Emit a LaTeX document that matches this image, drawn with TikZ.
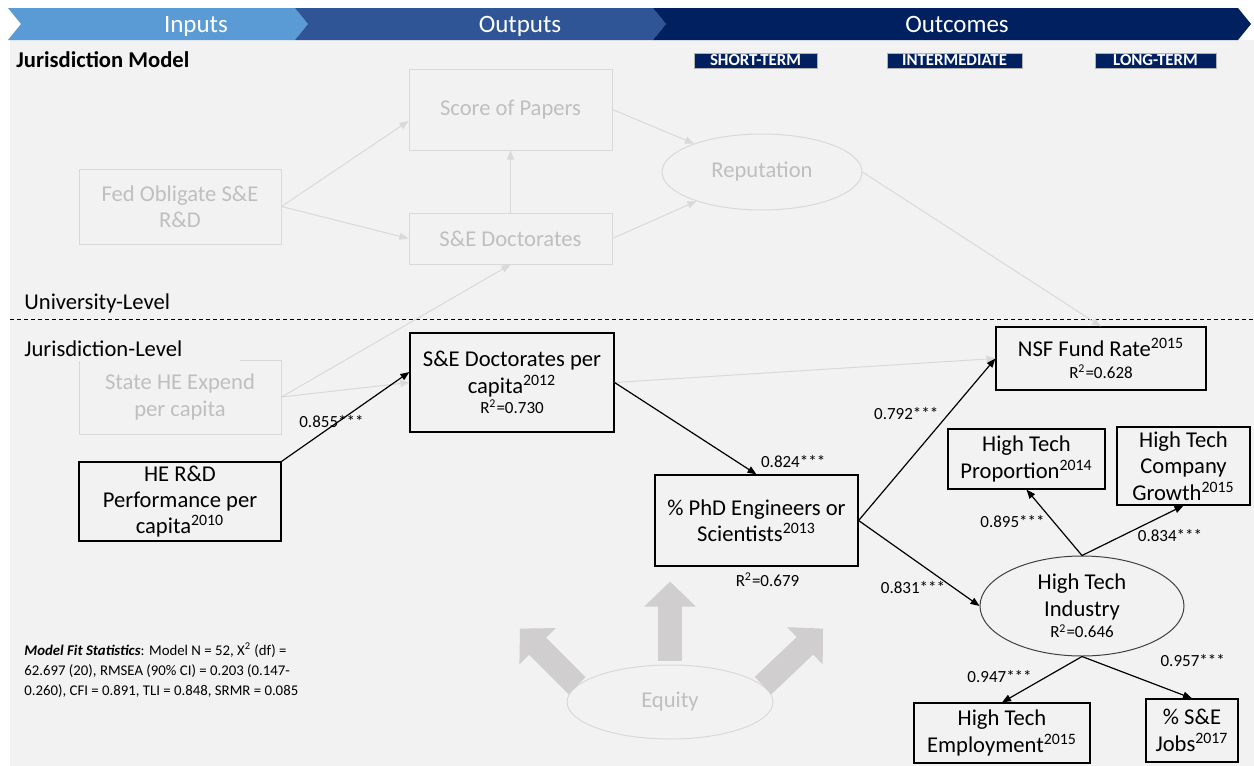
\documentclass[tikz,border=0pt]{standalone}
\usepackage{fontspec}
\setmainfont{Carlito}
\usetikzlibrary{arrows.meta, shapes.geometric, positioning}

\definecolor{bggrey}{HTML}{F2F2F2}
\definecolor{fadeline}{HTML}{D9D9D9}
\definecolor{fadetext}{HTML}{BFBFBF}
\definecolor{blockgrey}{HTML}{D0CECE}
\definecolor{navy}{HTML}{002060}
\definecolor{midblue}{HTML}{2F5597}
\definecolor{skyblue}{HTML}{5B9BD5}

\newcommand{\mainsize}{\fontsize{11.3}{13.2}\selectfont}
\newcommand{\coefsize}{\fontsize{8.5}{10}\selectfont}
\newcommand{\headsize}{\fontsize{12.5}{15}\selectfont}
\newcommand{\tagsize}{\fontsize{8.4}{9}\selectfont}
\newcommand{\fitsize}{\fontsize{7.4}{10}\selectfont}

\begin{document}
\begin{tikzpicture}[x=0.5pt, y=-0.5pt,
        box/.style={draw=black, line width=0.6pt, align=center, font=\mainsize, inner sep=1pt},
        fadebox/.style={draw=fadeline, line width=0.5pt, text=fadetext, align=center, font=\mainsize, inner sep=1pt},
        coef/.style={font=\coefsize, inner sep=1pt},
        link/.style={draw=black, line width=0.6pt, -{Triangle[length=4.5pt,width=3.5pt]}},
        fadelink/.style={draw=fadeline, line width=0.5pt, -{Triangle[length=4.5pt,width=3.5pt]}},
        head/.style={text=white, font=\headsize, inner sep=0pt, anchor=base},
        tag/.style={fill=navy, draw=gray!60, line width=0.4pt, text=white, font=\tagsize\bfseries,
            minimum height=7.5pt, text height=5.5pt, text depth=0.5pt, inner sep=0pt},
        bigarrow/.style={draw=blockgrey, line width=12pt, -{Triangle[length=12.5pt,width=25pt]}}
    ]
        \useasboundingbox (0,0) rectangle (1254,766);
        \fill[white] (0,0) rectangle (1254,766);
        \fill[bggrey] (10,40) rectangle (1254,766); % slide background

        % header chevrons
        \fill[skyblue] (8,8) -- (295,8) -- (308,24) -- (295,40) -- (8,40) -- (21,24) -- cycle;
        \fill[midblue] (295,8) -- (653,8) -- (666,24) -- (653,40) -- (295,40) -- (308,24) -- cycle;
        \fill[navy] (653,8) -- (1238,8) -- (1251,24) -- (1238,40) -- (653,40) -- (666,24) -- cycle;
        \node[head] (inputs) at (196,32) {Inputs};
        \node[head] (outputs) at (520,32) {Outputs};
        \node[head] (outcomes) at (957,32) {Outcomes};

        \node[tag, minimum width=61.5pt] (shortterm) at (755.5,60.5) {SHORT-TERM};
        \node[tag, minimum width=67.5pt] (interm) at (954.5,60.5) {INTERMEDIATE};
        \node[tag, minimum width=60.5pt] (longterm) at (1155.5,60.5) {LONG-TERM};

        \node[anchor=west, inner sep=0pt, font=\fontsize{11.3}{13}\selectfont\bfseries] (jmodel) at (16,60) {Jurisdiction Model};

        % university level (faded)
        \node[fadebox, minimum width=101pt, minimum height=37.5pt] (fed) at (180,206.5) {Fed Obligate S\&E\\R\&D};
        \node[fadebox, minimum width=101.5pt, minimum height=40.5pt] (score) at (510.5,109.5) {Score of Papers};
        \node[fadebox, minimum width=101.5pt, minimum height=25.5pt] (sedoc) at (510.5,238.5) {S\&E Doctorates};
        \node[fadebox, ellipse, minimum width=100pt, minimum height=38pt] (rep) at (762,172) {Reputation};

        \node[anchor=west, inner sep=0pt, font=\fontsize{11.3}{13}\selectfont] (univ) at (24,303) {University-Level};
        \draw[dash pattern=on 2pt off 1.5pt, line width=0.5pt] (10,319) -- (1254,319);

        % jurisdiction level
        \node[fadebox, minimum width=101pt, minimum height=37pt] (state) at (180,397) {State HE Expend\\per capita};
        \node[anchor=north west, fill=bggrey, inner sep=0pt, text width=108pt, align=left,
            minimum height=12.5pt, font=\fontsize{11.3}{13}\selectfont] (jlevel) at (24,336) {Jurisdiction-Level};
        \node[box, minimum width=101pt, minimum height=39.5pt] (herd) at (180,501.5) {HE R\&D\\Performance per\\capita\textsuperscript{2010}};
        \node[box, minimum width=102pt, minimum height=49.5pt] (sedpc) at (512,382.5) {S\&E Doctorates per\\capita\textsuperscript{2012}\\[-3pt]{\coefsize R\textsuperscript{2}=0.730}};
        \node[box, minimum width=101.5pt, minimum height=45.5pt] (phd) at (756.5,520.5) {\% PhD Engineers or\\Scientists\textsuperscript{2013}};
        \node[coef, below=2pt of phd.south, xshift=5.5pt] (phdrsq) {R\textsuperscript{2}=0.679};
        \node[box, minimum width=105pt, minimum height=31.5pt] (nsf) at (1101,358.5) {NSF Fund Rate\textsuperscript{2015}\\[-2.5pt]{\coefsize R\textsuperscript{2}=0.628}};
        \node[box, minimum width=78.5pt, minimum height=30pt] (htp) at (1026.5,459) {High Tech\\Proportion\textsuperscript{2014}};
        \node[box, minimum width=66.5pt, minimum height=39pt] (htcg) at (1183.5,466) {High Tech\\Company\\Growth\textsuperscript{2015}};
        \node[box, ellipse, line width=0.5pt, draw=black!75, minimum width=102pt, minimum height=50pt] (hti) at (1082,606) {High Tech\\Industry\\[-2.5pt]{\coefsize R\textsuperscript{2}=0.646}};
        \node[box, minimum width=88pt, minimum height=30pt] (hte) at (1002,733) {High Tech\\Employment\textsuperscript{2015}};
        \node[box, minimum width=46pt, minimum height=31.5pt] (sej) at (1192,730.5) {\% S\&E\\Jobs\textsuperscript{2017}};

        % faded paths
        \draw[fadelink] (fed.east) -- ([yshift=-5.75pt]score.west);
        \draw[fadelink] (fed.east) -- (sedoc.west);
        \draw[fadelink] (sedoc.north) -- (score.south);
        \draw[fadelink] (score.east) -- (rep);
        \draw[fadelink] (sedoc.east) -- (rep);
        \draw[fadelink] (rep.east) -- (nsf.north);
        \draw[fadelink] (state.east) -- (sedoc.south);
        \draw[fadelink] (state.east) -- (sedpc.west);
        \draw[fadelink] (sedpc.east) -- (nsf.west);

        % estimated paths
        \draw[link] (herd.north east) -- ([yshift=5.25pt]sedpc.west) node[coef, pos=0.39, yshift=2.5pt] (cherd) {0.855***};
        \draw[link] (sedpc.east) -- (phd.north) node[coef, pos=1, anchor=south west, xshift=1pt, yshift=2pt] (csedpc) {0.824***};
        \draw[link] (phd.east) -- (nsf.west) node[coef, pos=0.66, anchor=east, xshift=-4pt] (cnsf) {0.792***};
        \draw[link] (phd.east) -- (hti.west) node[coef, pos=0.45, yshift=-14.5pt] (chti) {0.831***};
        \draw[link] (hti.north) -- (htp.south) node[coef, pos=0.52, anchor=east, xshift=-3pt] (chtp) {0.895***};
        \draw[link] (hti.north) -- (htcg.south) node[coef, pos=0.867, anchor=north, yshift=-7.5pt] (chtcg) {0.834***};
        \draw[link] (hti.south) -- (hte.north) node[coef, pos=0.447, anchor=east, xshift=-6pt] (chte) {0.947***};
        \draw[link] (hti.south) -- (sej.north) node[coef, pos=0.6, anchor=south west, xshift=5pt, yshift=6pt] (csej) {0.957***};

        % equity
        \node[fadebox, ellipse, minimum width=103pt, minimum height=37pt] (equity) at (670,702) {Equity};
        \draw[bigarrow] ([yshift=2pt]equity.north) -- ++(0,-79);
        \draw[bigarrow] (equity.170) -- ++(-57,-57);
        \draw[bigarrow] (equity.10) -- ++(60,-57);

        \node[anchor=west, align=left, font=\fitsize, inner sep=0pt] (fit) at (24,670) {\textbf{\textit{Model Fit Statistics}}: Model N = 52, X\textsuperscript{2} (df) =\\62.697 (20), RMSEA (90\% CI) = 0.203 (0.147-\\0.260), CFI = 0.891, TLI = 0.848, SRMR = 0.085};
    \end{tikzpicture}
\end{document}
